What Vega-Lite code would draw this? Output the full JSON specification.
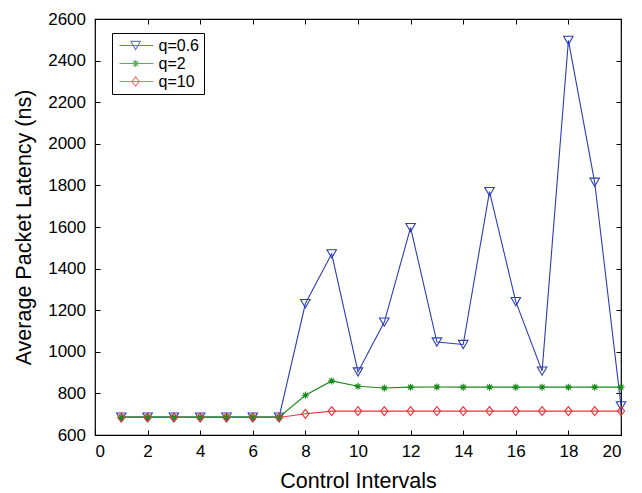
{
  "$schema": "https://vega.github.io/schema/vega-lite/v6.json",
  "width": 526,
  "height": 416,
  "autosize": "none",
  "padding": {"left": 95, "top": 19, "right": 21, "bottom": 58},
  "background": "white",
  "config": {
    "view": {"stroke": "#000000", "strokeWidth": 1.2},
    "font": "Liberation Sans",
    "axis": {
      "grid": false,
      "domain": false,
      "tickColor": "#000000",
      "tickSize": 5,
      "tickWidth": 1,
      "labelColor": "#000000",
      "labelFont": "Liberation Sans",
      "labelFontSize": 17,
      "titleColor": "#000000",
      "titleFont": "Liberation Sans",
      "titleFontSize": 21.5,
      "titleFontWeight": "normal"
    },
    "legend": {
      "labelFont": "Liberation Sans"
    }
  },
  "data": {
    "values": [
      {"x": 1, "q": "q=0.6", "y": 686}, {"x": 2, "q": "q=0.6", "y": 686}, {"x": 3, "q": "q=0.6", "y": 686}, {"x": 4, "q": "q=0.6", "y": 686}, {"x": 5, "q": "q=0.6", "y": 686},
      {"x": 6, "q": "q=0.6", "y": 686}, {"x": 7, "q": "q=0.6", "y": 686}, {"x": 8, "q": "q=0.6", "y": 1232}, {"x": 9, "q": "q=0.6", "y": 1471}, {"x": 10, "q": "q=0.6", "y": 903},
      {"x": 11, "q": "q=0.6", "y": 1143}, {"x": 12, "q": "q=0.6", "y": 1597}, {"x": 13, "q": "q=0.6", "y": 1047}, {"x": 14, "q": "q=0.6", "y": 1035}, {"x": 15, "q": "q=0.6", "y": 1770},
      {"x": 16, "q": "q=0.6", "y": 1241}, {"x": 17, "q": "q=0.6", "y": 907}, {"x": 18, "q": "q=0.6", "y": 2497}, {"x": 19, "q": "q=0.6", "y": 1815}, {"x": 20, "q": "q=0.6", "y": 740},
      {"x": 1, "q": "q=2", "y": 686}, {"x": 2, "q": "q=2", "y": 686}, {"x": 3, "q": "q=2", "y": 686}, {"x": 4, "q": "q=2", "y": 686}, {"x": 5, "q": "q=2", "y": 686},
      {"x": 6, "q": "q=2", "y": 686}, {"x": 7, "q": "q=2", "y": 686}, {"x": 8, "q": "q=2", "y": 791}, {"x": 9, "q": "q=2", "y": 860}, {"x": 10, "q": "q=2", "y": 834},
      {"x": 11, "q": "q=2", "y": 826}, {"x": 12, "q": "q=2", "y": 830}, {"x": 13, "q": "q=2", "y": 831}, {"x": 14, "q": "q=2", "y": 830}, {"x": 15, "q": "q=2", "y": 830},
      {"x": 16, "q": "q=2", "y": 830}, {"x": 17, "q": "q=2", "y": 830}, {"x": 18, "q": "q=2", "y": 830}, {"x": 19, "q": "q=2", "y": 830}, {"x": 20, "q": "q=2", "y": 830},
      {"x": 1, "q": "q=10", "y": 684}, {"x": 2, "q": "q=10", "y": 684}, {"x": 3, "q": "q=10", "y": 684}, {"x": 4, "q": "q=10", "y": 684}, {"x": 5, "q": "q=10", "y": 684},
      {"x": 6, "q": "q=10", "y": 684}, {"x": 7, "q": "q=10", "y": 684}, {"x": 8, "q": "q=10", "y": 702}, {"x": 9, "q": "q=10", "y": 715}, {"x": 10, "q": "q=10", "y": 715},
      {"x": 11, "q": "q=10", "y": 715}, {"x": 12, "q": "q=10", "y": 715}, {"x": 13, "q": "q=10", "y": 715}, {"x": 14, "q": "q=10", "y": 715}, {"x": 15, "q": "q=10", "y": 715},
      {"x": 16, "q": "q=10", "y": 715}, {"x": 17, "q": "q=10", "y": 715}, {"x": 18, "q": "q=10", "y": 715}, {"x": 19, "q": "q=10", "y": 715}, {"x": 20, "q": "q=10", "y": 715}
    ]
  },
  "layer": [
    {
      "transform": [{"filter": "datum.q === 'q=0.6'"}],
      "mark": {"type": "line", "color": "#2d3db5", "strokeWidth": 1.1, "clip": false,
        "point": {"shape": "triangle-down", "filled": false, "size": 90, "color": "#2d3db5", "strokeWidth": 1.1}},
      "encoding": {
        "x": {"field": "x", "type": "quantitative", "scale": {"domain": [0, 20], "nice": false},
          "axis": {"orient": "bottom", "values": [0, 2, 4, 6, 8, 10, 12, 14, 16, 18, 20], "ticks": false, "title": "Control Intervals", "labelPadding": 8, "titlePadding": 11}},
        "y": {"field": "y", "type": "quantitative", "scale": {"domain": [600, 2600], "nice": false, "zero": false},
          "axis": {"orient": "left", "values": [600, 800, 1000, 1200, 1400, 1600, 1800, 2000, 2200, 2400, 2600], "format": "d", "ticks": false, "title": "Average Packet Latency (ns)", "labelPadding": 9.5, "titlePadding": 12}}
      }
    },
    {
      "transform": [{"filter": "datum.q === 'q=2'"}],
      "mark": {"type": "line", "color": "#168a16", "strokeWidth": 1.1, "clip": false,
        "point": {"shape": "M0,-1V1M-1,0H1M-0.7,-0.7L0.7,0.7M-0.7,0.7L0.7,-0.7", "filled": false, "size": 49, "color": "#168a16", "strokeWidth": 1.1}},
      "encoding": {
        "x": {"field": "x", "type": "quantitative",
          "axis": {"orient": "top", "offset": -416, "values": [0, 2, 4, 6, 8, 10, 12, 14, 16, 18, 20], "labels": false, "title": null}},
        "y": {"field": "y", "type": "quantitative",
          "axis": {"orient": "right", "offset": -526, "values": [600, 800, 1000, 1200, 1400, 1600, 1800, 2000, 2200, 2400, 2600], "labels": false, "title": null}}
      }
    },
    {
      "transform": [{"filter": "datum.q === 'q=10'"}],
      "mark": {"type": "line", "color": "#ee3333", "strokeWidth": 1.1, "clip": false,
        "point": {"shape": "M-0.8,0L0,-1L0.8,0L0,1Z", "filled": false, "size": 81, "color": "#ee3333", "strokeWidth": 1.1}},
      "encoding": {
        "x": {"field": "x", "type": "quantitative",
          "axis": {"orient": "bottom", "offset": -416, "values": [0, 2, 4, 6, 8, 10, 12, 14, 16, 18, 20], "labels": false, "title": null}},
        "y": {"field": "y", "type": "quantitative",
          "axis": {"orient": "left", "offset": -526, "values": [600, 800, 1000, 1200, 1400, 1600, 1800, 2000, 2200, 2400, 2600], "labels": false, "title": null}}
      }
    },
    {
      "transform": [{"filter": "datum.x > 100"}],
      "mark": {"type": "point", "filled": false, "strokeWidth": 1.1},
      "encoding": {
        "x": {"field": "x", "type": "quantitative", "axis": null},
        "y": {"field": "y", "type": "quantitative", "axis": null},
        "color": {"field": "q", "type": "nominal",
          "scale": {"domain": ["q=0.6", "q=2", "q=10"], "range": ["#2d3db5", "#168a16", "#ee3333"]},
          "legend": {"title": null, "orient": "none", "legendX": 17, "legendY": 14, "padding": 4.5,
            "strokeColor": "#000000", "fillColor": "#ffffff", "symbolSize": 100, "symbolStrokeWidth": 1.1,
            "labelFontSize": 16, "labelColor": "#000000", "labelOffset": 26, "rowPadding": 2, "cornerRadius": 0}},
        "shape": {"field": "q", "type": "nominal",
          "scale": {"domain": ["q=0.6", "q=2", "q=10"], "range": [
            "M-1,0H5.76M1.27,-0.82L3.17,-0.82L2.22,0.82Z",
            "M-1,0H5.76M2.22,-0.7V0.7M1.72,-0.5L2.72,0.5M1.72,0.5L2.72,-0.5",
            "M-1,0H5.76M1.5,0L2.22,-0.9L2.94,0L2.22,0.9Z"]},
          "legend": {"title": null, "orient": "none", "legendX": 17, "legendY": 14, "padding": 4.5,
            "strokeColor": "#000000", "fillColor": "#ffffff", "symbolSize": 100, "symbolStrokeWidth": 1.1,
            "labelFontSize": 16, "labelColor": "#000000", "labelOffset": 26, "rowPadding": 2, "cornerRadius": 0}}
      }
    }
  ],
  "resolve": {"axis": {"x": "independent", "y": "independent"}}
}
